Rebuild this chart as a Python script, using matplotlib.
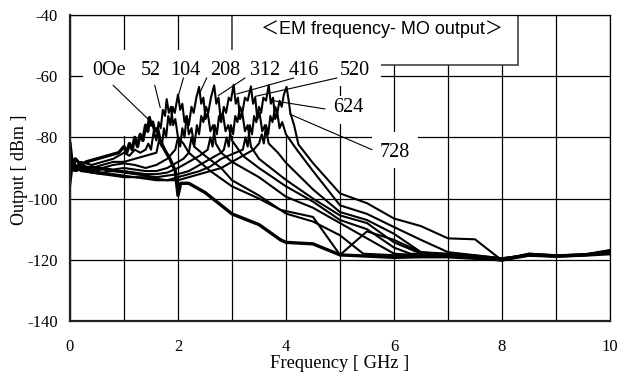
import matplotlib
matplotlib.use("Agg")
import matplotlib.pyplot as plt
from matplotlib.patches import Rectangle

plt.rcParams['axes.unicode_minus'] = False

# bias field labels, one curve each
fields = ['0Oe', '52', '104', '208', '312', '416', '520', '624', '728']

freq_0 = [0, 0.05, 0.1, 0.2, 0.3, 0.5, 0.7, 0.9, 1.0, 1.05, 1.1, 1.15, 1.2, 1.25, 1.3, 1.35, 1.4, 1.44,
          1.47, 1.5, 1.53, 1.57, 1.62, 1.67, 1.75, 1.85, 1.95, 2.0, 2.05, 2.2, 2.5, 3.0, 3.5, 3.9, 4.0,
          4.5, 5.0, 5.5, 6.0, 6.5, 7.0, 7.5, 8.0, 8.5, 9.0, 9.5, 10.0]
out_0 = [-82, -90, -87, -89, -88, -87, -86, -85, -83, -85, -82, -84, -80, -83, -79, -81, -76, -78,
         -73.5, -76, -75, -78, -77, -81, -84, -87, -91, -99, -95, -95, -98, -105, -108.5, -113.5, -114.3,
         -114.8, -118.4, -118.8, -119.2, -119, -119, -119.5, -120, -118.5, -118.8, -118.5, -118]

freq_52 = [0, 0.05, 0.1, 0.2, 0.4, 0.6, 0.8, 1.0, 1.1, 1.2, 1.3, 1.4, 1.45, 1.5, 1.55, 1.6, 1.64, 1.68,
           1.72, 1.76, 1.79, 1.83, 1.87, 1.91, 1.95, 2.0, 2.1, 2.2, 2.4, 2.6, 3.0, 3.5, 3.9, 4.5, 5.0,
           5.5, 6.0, 6.5, 7.0, 7.5, 8.0, 8.5, 9.0, 9.5, 10.0]
out_52 = [-89, -87, -90, -88, -89, -88, -87, -85, -86, -84, -85, -84, -82, -84, -78, -81, -75, -77,
          -71, -73, -67.5, -72, -70, -76, -74, -80, -82, -85, -88, -91, -96, -100, -103.7, -106, -118.4,
          -110.7, -113.5, -117.5, -118.5, -119, -119.8, -118, -118.6, -118.2, -117.5]

freq_104 = [0, 0.05, 0.1, 0.2, 0.4, 0.6, 0.8, 1.0, 1.2, 1.4, 1.6, 1.65, 1.7, 1.74, 1.78, 1.82, 1.86, 1.9,
            1.94, 2.0, 2.04, 2.08, 2.12, 2.16, 2.2, 2.25, 2.3, 2.5, 2.8, 3.0, 3.5, 4.0, 4.5, 5.0, 5.43,
            6.0, 6.5, 7.0, 7.5, 8.0, 8.5, 9.0, 9.5, 10.0]
out_104 = [-90, -88, -91, -89, -90, -89, -88, -88, -87, -86, -85, -81, -83, -77, -80, -73, -76, -70,
           -72, -66, -71, -69, -75, -73, -79, -77, -83, -86, -90, -94, -99, -104.9, -107.5, -112, -118,
           -118.5, -118.3, -118.7, -119.2, -120.3, -118.2, -118.5, -118.3, -117.8]

freq_208 = [0, 0.05, 0.1, 0.2, 0.4, 0.6, 0.8, 1.0, 1.2, 1.4, 1.6, 1.8, 1.95, 2.0, 2.04, 2.08, 2.12, 2.16,
            2.2, 2.25, 2.29, 2.34, 2.39, 2.43, 2.47, 2.51, 2.55, 2.6, 2.65, 2.7, 2.8, 3.0, 3.5, 4.0, 4.5,
            5.0, 5.5, 6.0, 6.5, 7.0, 7.5, 8.0, 8.5, 9.0, 9.5, 10.0]
out_208 = [-88, -90, -89, -90, -89.5, -90, -89, -88.5, -89, -90, -89, -87, -84, -80, -83, -77, -80, -73,
           -76, -70, -72, -67, -63.5, -69, -67, -74, -72, -78, -76, -82, -85, -88, -93, -99.4, -103,
           -108, -113, -118, -118.6, -118.4, -119, -119.6, -118.5, -118.7, -118.4, -117.2]

freq_312 = [0, 0.05, 0.1, 0.2, 0.4, 0.6, 0.8, 1.0, 1.2, 1.4, 1.6, 1.8, 2.0, 2.1, 2.2, 2.25, 2.3, 2.35,
            2.39, 2.43, 2.47, 2.52, 2.56, 2.61, 2.67, 2.71, 2.75, 2.79, 2.83, 2.88, 2.93, 3.0, 3.2, 3.5, 4.0,
            4.5, 5.0, 5.5, 6.0, 6.3, 7.0, 7.5, 8.0, 8.5, 9.0, 9.5, 10.0]
out_312 = [-91, -89, -90, -89.5, -90.5, -90, -90.5, -90, -90.5, -91, -91, -90, -88, -87, -85, -80, -83, -76,
           -79, -73, -75, -70, -72, -67, -63, -69, -67, -74, -72, -78, -76, -81, -86, -90, -96,
           -101, -107, -110, -116, -118, -118.3, -118.6, -119.5, -118.3, -118.9, -118.5, -117]

freq_416 = [0, 0.05, 0.1, 0.2, 0.4, 0.6, 0.8, 1.0, 1.2, 1.4, 1.6, 1.8, 2.0, 2.2, 2.4, 2.55, 2.6, 2.64,
            2.68, 2.72, 2.76, 2.8, 2.85, 2.89, 2.94, 2.98, 3.03, 3.07, 3.11, 3.15, 3.19, 3.24, 3.29, 3.35, 3.5,
            4.0, 4.5, 5.0, 5.5, 6.0, 6.5, 7.0, 7.5, 8.0, 8.5, 9.0, 9.5, 10.0]
out_416 = [-89, -91, -90, -90.5, -91, -90.5, -91, -91, -91.5, -92, -92, -91.5, -90, -88, -86, -84, -80, -83,
           -76, -79, -73, -75, -70, -72, -67, -68, -62.8, -69, -67, -74, -72, -78, -76, -83, -87,
           -93.9, -100, -105.5, -108, -114.3, -118, -118.5, -119, -120, -118.6, -118.8, -118.3, -117.5]

freq_520 = [0, 0.05, 0.1, 0.2, 0.4, 0.6, 0.8, 1.0, 1.2, 1.4, 1.6, 1.8, 2.0, 2.2, 2.4, 2.6, 2.8, 2.85,
            2.9, 2.94, 2.98, 3.02, 3.06, 3.1, 3.15, 3.19, 3.24, 3.29, 3.35, 3.39, 3.43, 3.47, 3.51, 3.56, 3.61,
            3.68, 3.85, 4.0, 4.5, 5.0, 5.5, 6.0, 6.5, 7.0, 7.5, 8.0, 8.5, 9.0, 9.5, 10.0]
out_520 = [-90, -88, -91, -90, -91, -91.5, -91, -91.5, -92, -92.5, -93, -92.5, -92, -91, -89, -87, -85, -84,
           -80, -83, -76, -79, -73, -75, -70, -72, -67, -68, -63.3, -69, -67, -74, -72, -78, -76,
           -82, -85, -88.3, -97, -104.4, -107, -111.5, -117.5, -118, -118.8, -119.7, -118.5, -119, -118.6, -117.8]

freq_624 = [0, 0.05, 0.1, 0.2, 0.4, 0.6, 0.8, 1.0, 1.2, 1.4, 1.6, 1.8, 2.0, 2.2, 2.4, 2.6, 2.8, 3.0,
            3.2, 3.25, 3.29, 3.33, 3.37, 3.41, 3.45, 3.5, 3.54, 3.58, 3.63, 3.68, 3.72, 3.76, 3.8, 3.84, 3.88,
            3.93, 4.0, 4.2, 4.5, 5.0, 5.5, 6.0, 6.5, 7.0, 7.5, 8.0, 8.5, 9.0, 9.5, 10.0]
out_624 = [-88, -90, -89, -91, -91.5, -92, -92, -92.5, -93, -93, -93.5, -94, -93, -92, -91, -89.5, -87, -85.5,
           -84, -80, -83, -76, -79, -73, -75, -70, -72, -67, -68, -63, -69, -67, -74, -72, -77,
           -75, -79, -84, -91, -102.2, -105, -109.3, -113.5, -117.5, -118.5, -119.5, -118.4, -118.7, -118.5, -117]

freq_728 = [0, 0.05, 0.1, 0.2, 0.4, 0.6, 0.8, 1.0, 1.2, 1.4, 1.6, 1.8, 2.0, 2.2, 2.4, 2.6, 2.8, 3.0,
            3.2, 3.4, 3.5, 3.55, 3.59, 3.63, 3.67, 3.71, 3.75, 3.8, 3.84, 3.88, 3.92, 3.96, 4.01, 4.05, 4.08,
            4.15, 4.23, 4.5, 5.0, 5.5, 6.0, 6.5, 7.0, 7.5, 8.0, 8.5, 9.0, 9.5, 10.0]
out_728 = [-96, -89, -91, -90.5, -91.5, -92, -92.5, -93, -93, -93.5, -94, -94, -94, -93, -92, -91, -90, -88,
           -86, -84, -82, -79, -82, -76, -79, -73, -75, -70, -72, -68, -70, -66, -63.5, -68, -72,
           -76, -82.3, -88.4, -98.3, -101.5, -106.5, -109, -113, -113.3, -120.2, -118, -118.5, -118.3, -116.8]

freqs = [freq_0, freq_52, freq_104, freq_208, freq_312, freq_416, freq_520, freq_624, freq_728]
outs = [out_0, out_52, out_104, out_208, out_312, out_416, out_520, out_624, out_728]

# label text position and the point its leader line ends on
label_xy = [(0.72, -58.3), (1.50, -58.3), (2.13, -58.3), (2.87, -58.3), (3.61, -58.3),
            (4.33, -58.3), (5.28, -58.3), (5.15, -70.1), (6.02, -85.0)]
leader_from = [(0.80, -63.0), (1.57, -63.0), (2.10, -60.6), (2.53, -60.6), (3.24, -60.6),
               (4.14, -60.6), (4.94, -60.6), (4.72, -70.7), (5.59, -84.0)]
leader_to = [(1.48, -74.6), (1.67, -70.2), (1.98, -68.0), (2.41, -65.2), (2.75, -66.3),
             (3.09, -65.8), (3.43, -66.6), (3.76, -68.0), (4.07, -72.4)]

serif = 'Liberation Serif'

fig = plt.figure(figsize=(6.32, 3.79), dpi=100)
ax = fig.add_axes([70 / 632, 1 - 321 / 379, 540 / 632, 306 / 379])

ax.set_xlim(0, 10)
ax.set_ylim(-140, -40)
ax.set_xticks(range(0, 11, 2))
ax.set_xticks(range(1, 10, 2), minor=True)
ax.set_yticks(range(-140, -39, 20))
ax.grid(True, which='both', color='black', lw=0.9, zorder=0)
ax.set_axisbelow(True)
ax.tick_params(which='both', length=0)
ax.tick_params(axis='x', pad=13, labelsize=12)
ax.tick_params(axis='y', pad=9, labelsize=12)
for lab in ax.get_xticklabels() + ax.get_yticklabels():
    lab.set_family(serif)
for side in ['top', 'right']:
    ax.spines[side].set_linewidth(0.9)
for side in ['left', 'bottom']:
    ax.spines[side].set_linewidth(1.6)
    ax.spines[side].set_color('#222222')

# title box
ax.add_patch(Rectangle((3.0, -56.5), 5.3, 16.5, facecolor='white', edgecolor='#444444',
                       lw=1.2, zorder=1))
ax.text(5.78, -44.6, '＜EM frequency- MO output＞', ha='center', va='center', fontsize=13,
        family=['Liberation Sans', 'Noto Sans CJK JP'], zorder=4)

# white patches behind the field labels
for x0, y0, w, h in [(0.24, -79.7, 4.57, 28.1), (4.81, -63.1, 0.95, 11.5),
                     (4.78, -75.7, 0.81, 9.3), (5.59, -89.9, 0.85, 11.6)]:
    ax.add_patch(Rectangle((x0, y0), w, h, facecolor='white', edgecolor='none', zorder=1.5))

for i in range(len(fields)):
    lw = 2.4 if i == 0 else 1.5
    ax.plot(freqs[i], outs[i], color='black', lw=lw, zorder=2)
    ax.plot([leader_from[i][0], leader_to[i][0]], [leader_from[i][1], leader_to[i][1]],
            color='black', lw=0.8, zorder=3)
    ax.text(label_xy[i][0], label_xy[i][1], fields[i], ha='center', va='center',
            fontsize=14.5, family=serif, zorder=4)

fig.text(20 / 632, 1 - 170 / 379, 'Output [ dBm ]', rotation=90, ha='center', va='center',
         fontsize=13, family=serif)
fig.text(340 / 632, 1 - 364 / 379, 'Frequency [ GHz ]', ha='center', va='center',
         fontsize=13.3, family=serif)

fig.savefig('out.png', dpi=100)
